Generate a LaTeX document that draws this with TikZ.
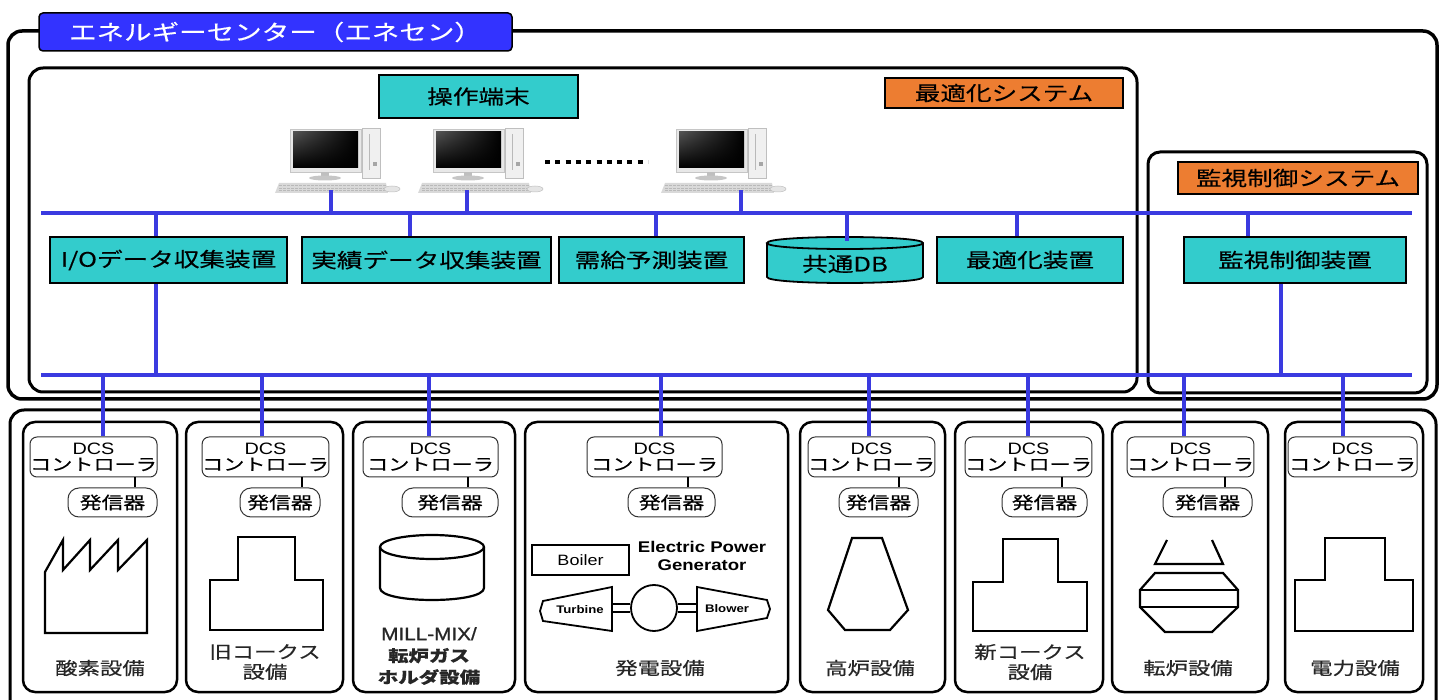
\documentclass[tikz,border=0pt]{standalone}
\usepackage{fontspec}
\setmainfont{Noto Sans CJK JP}[FakeStretch=1.28, FakeBold=0.4]
\newfontfamily\latinfont{Liberation Sans}[FakeStretch=1.2]
\newfontfamily\latinheavy{Liberation Sans}[FakeStretch=1.15, FakeBold=1.2]
\usetikzlibrary{calc,shadings}

\definecolor{busblue}{RGB}{58,58,224}
\definecolor{titleblue}{RGB}{51,51,255}
\definecolor{unitteal}{RGB}{51,204,204}
\definecolor{sysorange}{RGB}{237,125,49}

\tikzset{
  frame/.style={draw=black, line width=3pt, rounded corners=14pt},
  unitbox/.style={draw=black, line width=1.8pt, fill=unitteal, minimum height=46pt, inner sep=0pt,
    font=\fontsize{20}{22}\selectfont},
  sysbox/.style={draw=black, line width=1.8pt, fill=sysorange, inner sep=0pt,
    font=\fontsize{20}{22}\selectfont},
  bus/.style={draw=busblue, line width=3.5pt},
  tap/.style={draw=busblue, line width=4.5pt},
  plant/.style={draw=black, line width=2.5pt, rounded corners=12pt},
  dcsbox/.style={draw=black!80, line width=1pt, rounded corners=7pt, minimum height=40pt, inner sep=0pt,
    align=center, font=\fontsize{16.5}{17}\selectfont},
  txbox/.style={draw=black!80, line width=1pt, rounded corners=11pt, minimum height=29pt, inner sep=0pt,
    font=\fontsize{17}{19}\selectfont},
  icon/.style={draw=black, line width=2.2pt, line join=miter},
  plantlabel/.style={align=center, text=black!85, font=\fontsize{17.5}{20}\selectfont},
  pics/pcset/.style={code={
    \fill[gray!18] (-3,-3) rectangle (68,40);
    \draw[gray!45, line width=.5pt] (-3,-3) rectangle (68,40);
    \shade[upper left=gray!65!black, upper right=black, lower left=black, lower right=black] (0,0) rectangle (65,36);
    \fill[gray!50] (28,40) rectangle (36,45);
    \fill[gray!45] (32,46) ellipse [x radius=16, y radius=2.5];
    \fill[gray!12] (69,-4) rectangle (87,46);
    \draw[gray!50, line width=.5pt] (69,-4) rectangle (87,46);
    \draw[gray!55, line width=.8pt] (76,2) -- (76,38);
    \fill[gray!70] (80,30) rectangle (84,34);
    \fill[gray!30] (-14,51) -- (93,51) -- (95,61) -- (-18,61) -- cycle;
    \foreach \kr in {53.5,56,58.5}
      \draw[gray!55, line width=.6pt, dash pattern=on 3pt off 1pt] (-14,\kr) -- (93,\kr);
    \fill[gray!20] (99,57) ellipse [x radius=8, y radius=3];
    \draw[gray!50, line width=.5pt] (99,57) ellipse [x radius=8, y radius=3];
  }}
}

\begin{document}
\begin{tikzpicture}[x=1pt, y=-1pt]
\useasboundingbox (0,0) rectangle (1444,700);
\clip (0,0) rectangle (1444,700);

% ---------- frames ----------
\draw[frame, line width=3.5pt] (8,31) rectangle (1437,399);
\draw[frame] (29,68) rectangle (1137,392);
\draw[frame, rounded corners=12pt] (1148,152) rectangle (1427,393);
\draw[frame] (10,410) rectangle (1436,716);

\node[fill=titleblue, draw=black, line width=1.5pt, rounded corners=4pt, minimum width=473pt,
  minimum height=38pt, inner sep=0pt, text=white, font=\fontsize{21.5}{23}\selectfont]
  (title) at (275.5,32) {エネルギーセンター（エネセン）};

% ---------- system labels ----------
\node[unitbox, minimum width=199pt, minimum height=43pt] (term) at (478.5,96.5) {操作端末};
\node[sysbox, minimum width=238pt, minimum height=30pt] (optsys) at (1004,93) {最適化システム};
\node[sysbox, minimum width=240pt, minimum height=32pt] (monsys) at (1298,178) {監視制御システム};

% ---------- operator terminals ----------
\pic at (293,132) {pcset};
\pic at (436,132) {pcset};
\pic at (679,132) {pcset};
\coordinate (pc1) at (331,190);
\coordinate (pc2) at (467,190);
\coordinate (pc3) at (741,190);
\coordinate (dotsw) at (545,162);
\coordinate (dotse) at (648,162);
\draw[black, line width=4.5pt, dash pattern=on 5pt off 5.3pt] (dotsw) -- (dotse);

% ---------- central units ----------
\node[unitbox, minimum width=237pt] (io) at (168.5,260) {I/Oデータ収集装置};
\node[unitbox, minimum width=249pt] (jisseki) at (426.5,260) {実績データ収集装置};
\node[unitbox, minimum width=185pt] (jukyu) at (651.5,260) {需給予測装置};
\fill[unitteal] (767,243) -- (767,277) .. controls (767,285) and (923,285) .. (923,277)
  -- (923,243) .. controls (923,235) and (767,235) .. (767,243) -- cycle;
\draw[black, line width=1.8pt] (767,243) -- (767,277) .. controls (767,285) and (923,285) .. (923,277)
  -- (923,243) .. controls (923,235) and (767,235) .. (767,243)
  .. controls (767,251) and (923,251) .. (923,243);
\node[minimum width=156pt, minimum height=46pt, inner sep=0pt, font=\fontsize{20}{22}\selectfont]
  (db) at (845,264) {共通DB};
\node[unitbox, minimum width=186pt] (saiteki) at (1030,260) {最適化装置};
\node[unitbox, minimum width=222pt] (kanshi) at (1295,260) {監視制御装置};

% ---------- buses ----------
\coordinate (busAw) at (41,213);
\coordinate (busAe) at (1412,213);
\coordinate (busBw) at (41,375);
\coordinate (busBe) at (1412,375);
\draw[bus] (busAw) -- (busAe);
\draw[bus] (busBw) -- (busBe);

\foreach \p in {pc1,pc2,pc3}
  \draw[bus] (\p) -- (\p |- busAw);

\coordinate (tio) at (156,213);
\coordinate (tjs) at (410,213);
\coordinate (tjk) at (656,213);
\coordinate (tdb) at (847,213);
\coordinate (tsk) at (1017,213);
\coordinate (tkn) at (1248,213);
\draw[bus] (tio) -- (tio |- io.north);
\draw[bus] (tjs) -- (tjs |- jisseki.north);
\draw[bus] (tjk) -- (tjk |- jukyu.north);
\draw[bus] (tdb) -- (tdb |- db.north);
\draw[bus] (tsk) -- (tsk |- saiteki.north);
\draw[bus] (tkn) -- (tkn |- kanshi.north);

\coordinate (bio) at (156,375);
\coordinate (bkn) at (1281,375);
\draw[bus] (bio |- io.south) -- (bio);
\draw[bus] (bkn |- kanshi.south) -- (bkn);

% ---------- plant cells ----------
\foreach \i/\bl/\br/\dl/\dr/\tx in
  {1/23/177/30/157/103, 2/186/343/203/328/262, 3/353/515/363/498/429, 4/525/788/587/722/661,
   5/800/945/810/933/869, 6/955/1103/967/1090/1028, 7/1112/1268/1128/1253/1184, 8/1285/1423/1288/1417/1343}
{
  \draw[plant] (\bl,422) rectangle (\br,692);
  \node[dcsbox, minimum width={\dr-\dl}] (dcs\i) at ({(\dl+\dr)/2},457)
    {{\latinfont DCS}\\[-1pt]コントローラ};
  \coordinate (drop\i) at (\tx,375);
  \draw[tap] (drop\i) -- (drop\i |- dcs\i.north);
}

\foreach \i/\tl/\tr/\k in {1/68/157/135, 2/240/320/302, 3/402/498/468, 4/628/715/688,
   5/839/918/899, 6/1002/1087/1062, 7/1163/1252/1225}
{
  \node[txbox, minimum width={\tr-\tl}] (tx\i) at ({(\tl+\tr)/2},502.5) {発信器};
  \coordinate (kk\i) at (\k,480);
  \draw[black, line width=2pt] (kk\i |- dcs\i.south) -- (kk\i |- tx\i.north);
}

% oxygen plant
\draw[icon] (45,633) -- (45,572) -- (63,540) -- (63,570) -- (90,540) -- (90,570) -- (118,540)
  -- (118,570) -- (147,540) -- (147,633) -- cycle;
\node[plantlabel] (lab1) at (100,668) {酸素設備};

% old coke ovens
\draw[icon] (210,630) -- (210,580) -- (238,580) -- (238,537) -- (295,537) -- (295,580)
  -- (323,580) -- (323,630) -- cycle;
\node[plantlabel] (lab2) at (265,662) {旧コークス\\設備};

% gas holder
\draw[icon] (380,547) -- (380,588) .. controls (380,604) and (484,604) .. (484,588) -- (484,547);
\draw[icon] (432,547) ellipse [x radius=52, y radius=12];
\node[plantlabel, font=\bfseries\fontsize{16}{21.5}\selectfont] (lab3) at (429,656)
  {{\mdseries\latinheavy\fontsize{18}{21.5}\selectfont MILL-MIX/}\\転炉ガス\\ホルダ設備};

% power station
\node[draw=black, line width=1.6pt, minimum width=97pt, minimum height=30pt, inner sep=0pt,
  font=\latinfont\fontsize{15}{17}\selectfont] (boiler) at (580.5,560) {Boiler};
\node[align=center, font=\latinfont\bfseries\fontsize{15.5}{18}\selectfont] (epg) at (702,556)
  {Electric Power\\Generator};
\draw[icon, line width=1.8pt] (543,601) -- (612,587) -- (612,631) -- (543,621) -- (540,611) -- cycle;
\draw[icon, line width=1.8pt] (697,587) -- (767,600) -- (770,609) -- (767,618) -- (697,631) -- cycle;
\node[draw=black, line width=1.8pt, circle, minimum size=46pt, inner sep=0pt] (gen) at (654,608) {};
\draw[black, line width=1.5pt] (612,604) -- (gen.west |- 612,604);
\draw[black, line width=1.5pt] (612,612) -- (gen.west |- 612,612);
\draw[black, line width=1.5pt] (gen.east |- 697,604) -- (697,604);
\draw[black, line width=1.5pt] (gen.east |- 697,612) -- (697,612);
\node[font=\latinfont\bfseries\fontsize{11}{12}\selectfont] (turb) at (580,610) {Turbine};
\node[font=\latinfont\bfseries\fontsize{11}{12}\selectfont] (blow) at (727,609) {Blower};
\node[plantlabel] (lab4) at (660,668) {発電設備};

% blast furnace
\draw[icon] (852,538) -- (882,538) -- (908,610) -- (890,630) -- (845,630) -- (828,610) -- cycle;
\node[plantlabel] (lab5) at (870,668) {高炉設備};

% new coke ovens
\draw[icon] (973,631) -- (973,582) -- (1003,582) -- (1003,539) -- (1058,539) -- (1058,582)
  -- (1087,582) -- (1087,631) -- cycle;
\node[plantlabel] (lab6) at (1030,662) {新コークス\\設備};

% converter
\draw[icon] (1167,540) -- (1155,564) -- (1223,564) -- (1212,540);
\draw[icon] (1155,573) -- (1223,573) -- (1238,590) -- (1238,607) -- (1212,632) -- (1165,632)
  -- (1140,607) -- (1140,590) -- cycle;
\draw[icon] (1140,590) rectangle (1238,607);
\node[plantlabel] (lab7) at (1188,668) {転炉設備};

% power distribution
\draw[icon] (1295,631) -- (1295,580) -- (1325,580) -- (1325,538) -- (1385,538) -- (1385,580)
  -- (1413,580) -- (1413,631) -- cycle;
\node[plantlabel] (lab8) at (1355,668) {電力設備};

\end{tikzpicture}
\end{document}
